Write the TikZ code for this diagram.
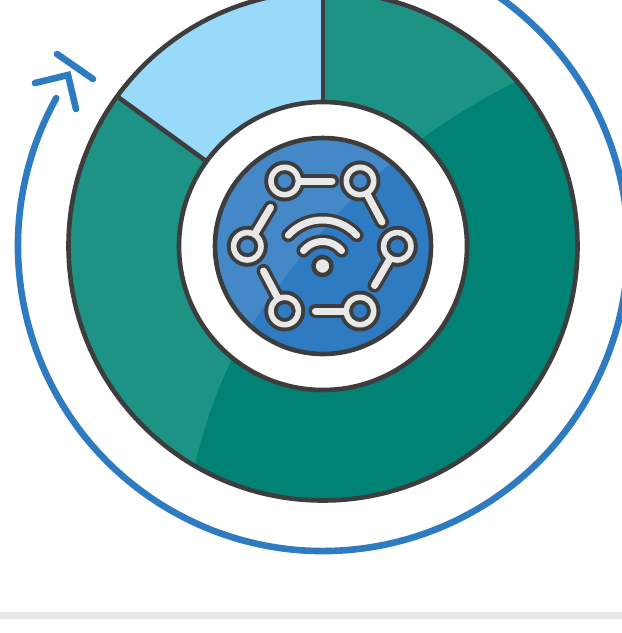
\documentclass[tikz,border=0pt]{standalone}
\usetikzlibrary{calc}
\definecolor{teal1}{HTML}{008375}
\definecolor{teal2}{HTML}{1D9385}
\definecolor{sky}{HTML}{99D9F9}
\definecolor{blue1}{HTML}{2E7BC1}
\definecolor{blue2}{HTML}{4488C7}
\definecolor{ink}{HTML}{3D3D3D}
\definecolor{pale}{HTML}{E8E8E8}
\tikzset{
  x=1pt,y=-1pt,
  outline/.style={draw=ink,line width=4.6pt},
  arrowline/.style={draw=blue1,line width=6.6pt,line cap=round,line join=miter},
  linkdark/.style={draw=ink,line width=14pt,line cap=round},
  linklight/.style={draw=pale,line width=7pt,line cap=round},
}
\newcommand{\hilite}{(545,66) -- (515,82) .. controls (395,142) and (320,222) .. (250,327) .. controls (225,365) and (205,420) .. (195,465) -- (184,515) -- (-50,700) -- (-50,-50) -- (545,-50) -- cycle}
\newcommand{\linkring}[3]{%
  \coordinate (#1) at #2;
  \coordinate (#1e) at #3;
  \draw[linkdark] ($(#1)!15pt!(#1e)$) -- (#1e);
  \fill[ink,even odd rule] (#1) circle[radius=20.5] (#1) circle[radius=7];
}
\newcommand{\linklightpart}[1]{%
  \draw[linklight] ($(#1)!15pt!(#1e)$) -- (#1e);
  \fill[pale,even odd rule] (#1) circle[radius=16.5] (#1) circle[radius=11];
}
\begin{document}
\begin{tikzpicture}
\useasboundingbox (0,0) rectangle (622,633);
\clip (0,0) rectangle (622,633);
\fill[white] (0,0) rectangle (622,633);
\fill[pale] (0,612) rectangle (622,619);
\coordinate (c) at (323,246);
% progress arrow
\draw[arrowline] ($(c)+(-151:305)$) arc[start angle=-151,end angle=-415,radius=305];
\draw[arrowline] (35,83) -- (68,75) -- (76,109);
\draw[arrowline] (57,54) -- (93,79);
% ring
\fill[teal1] (c) circle[radius=255];
\begin{scope}
  \clip (c) circle[radius=255];
  \fill[teal2] \hilite;
\end{scope}
\fill[sky] (c) -- ($(c)+(-90:255)$) arc[start angle=-90,end angle=-144,radius=255] -- cycle;
\draw[outline] (c) circle[radius=254.5];
\fill[white] (c) circle[radius=144];
\draw[outline] (c) ++(0,-144) -- ++(0,-111);
\draw[outline] ($(c)+(-144:144)$) -- ($(c)+(-144:255)$);
\draw[outline] (c) circle[radius=144];
% icon disc
\fill[blue1] (c) circle[radius=108];
\begin{scope}
  \clip (c) circle[radius=108];
  \fill[blue2] \hilite;
\end{scope}
\draw[outline] (c) circle[radius=108];
% icon links
\linkring{a}{(284.7,181)}{(332,181)}
\linkring{b}{(360,181)}{(382,222)}
\linkring{d}{(397.3,246.3)}{(374.5,285.5)}
\linkring{f}{(360,311)}{(315.5,311)}
\linkring{g}{(284.7,311)}{(263.5,271)}
\linkring{h}{(247.3,246.3)}{(270.5,207.5)}
\linklightpart{a}\linklightpart{b}\linklightpart{d}\linklightpart{f}\linklightpart{g}\linklightpart{h}
% wifi
\coordinate (w) at (322.5,266);
\draw[linkdark] ($(w)+(-42:46)$) arc[start angle=-42,end angle=-138,radius=46];
\draw[linkdark] ($(w)+(-39:24.5)$) arc[start angle=-39,end angle=-141,radius=24.5];
\draw[linklight] ($(w)+(-42:46)$) arc[start angle=-42,end angle=-138,radius=46];
\draw[linklight] ($(w)+(-39:24.5)$) arc[start angle=-39,end angle=-141,radius=24.5];
\fill[pale,draw=ink,line width=4.4pt] (w) circle[radius=9];
\end{tikzpicture}
\end{document}
